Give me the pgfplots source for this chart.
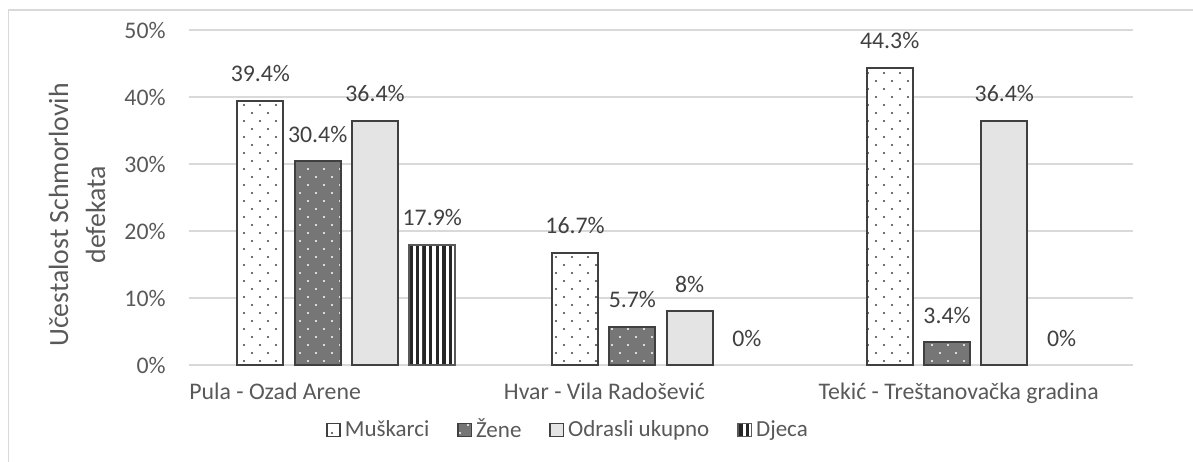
\documentclass[border=0pt]{standalone}
\usepackage{fontspec}
\setmainfont{Carlito}
\usepackage{pgfplots}
\pgfplotsset{compat=1.18}
\usetikzlibrary{patterns}
\definecolor{txt}{HTML}{595959}
\definecolor{lbl}{HTML}{404040}
\definecolor{gridc}{HTML}{D9D9D9}
\definecolor{edge}{HTML}{404040}
\definecolor{dgray}{HTML}{767676}
\definecolor{lgray}{HTML}{E4E4E4}
\pgfdeclarepatternformonly{sdots}{\pgfqpoint{-1pt}{-1pt}}{\pgfqpoint{9pt}{9pt}}{\pgfqpoint{8pt}{8pt}}{%
  \pgfpathcircle{\pgfqpoint{2pt}{2pt}}{0.6pt}%
  \pgfpathcircle{\pgfqpoint{6pt}{6pt}}{0.6pt}%
  \pgfusepath{fill}}
\pgfdeclarepatternformonly{vstripes}{\pgfqpoint{0pt}{-1pt}}{\pgfqpoint{3.3pt}{1pt}}{\pgfqpoint{3.3pt}{1pt}}{%
  \pgfpathrectangle{\pgfqpoint{0pt}{-1pt}}{\pgfqpoint{1.7pt}{2pt}}%
  \pgfusepath{fill}}
\begin{document}
\begin{tikzpicture}
\path[use as bounding box] (-94.5pt,-48pt) rectangle (502pt,182.5pt);
\draw[gridc, line width=0.75pt] (-90.25pt,-60pt) -- (-90.25pt,177.5pt) -- (520pt,177.5pt);
\begin{axis}[
  at={(0pt,0pt)}, anchor=south west,
  scale only axis, width=472pt, height=167.5pt,
  ybar=5.65pt, bar width=23pt,
  xmin=-0.5, xmax=2.5, ymin=0, ymax=50,
  xtick={0,1,2},
  xticklabels={Pula - Ozad Arene, Hvar - Vila Radošević, Tekić - Treštanovačka gradina},
  ytick={0,10,20,30,40,50},
  yticklabel={\pgfmathprintnumber{\tick}\%},
  /pgf/number format/assume math mode=true,
  axis line style={draw=none},
  major tick length=0pt,
  ymajorgrids, xmajorgrids=false, major grid style={draw=gridc, line width=1pt},
  tick label style={font=\fontsize{11.9}{13.5}\selectfont, text=txt},
  xticklabel style={anchor=north west, inner sep=0pt, xshift=-78.7pt, yshift=-9pt},
  yticklabel style={anchor=east, inner sep=0pt, xshift=-11.5pt},
  ylabel={Učestalost Schmorlovih\\defekata},
  ylabel style={at={(axis description cs:-0.1186,0.448)}, anchor=center, align=center,
    font=\fontsize{13.9}{18.5}\selectfont, text=txt},
  nodes near coords={\pgfmathprintnumber{\pgfplotspointmeta}\%},
  every node near coord/.append style={font=\fontsize{11.9}{13.5}\selectfont, text=lbl,
    anchor=south, inner sep=0pt, yshift=9pt},
  legend columns=4,
  legend style={at={(axis description cs:0.4025,-0.194)}, anchor=center, draw=none,
    font=\fontsize{11.5}{13}\selectfont, text=txt, inner sep=0pt,
    /tikz/every even column/.append style={column sep=12pt}},
  legend image code/.code={\draw[#1, line width=0.75pt] (0pt,-3.3pt) rectangle (6.6pt,3.3pt);},
  clip=false,
]
\addplot[draw=edge, line width=1pt, fill=white, postaction={pattern=sdots, pattern color=lbl}]
  coordinates {(0,39.4) (1,16.7) (2,44.3)};
\addplot[draw=edge, line width=1pt, fill=dgray, postaction={pattern=sdots, pattern color=white}]
  coordinates {(0,30.4) (1,5.7) (2,3.4)};
\addplot[draw=edge, line width=1pt, fill=lgray]
  coordinates {(0,36.4) (1,8) (2,36.4)};
\addplot[draw=txt, line width=1pt, fill=white, postaction={pattern=vstripes, pattern color=black!85}]
  coordinates {(0,17.9)};
\addplot[draw=none, fill=none, bar shift=42.975pt, forget plot]
  coordinates {(1,0) (2,0)};
\legend{Muškarci, Žene, Odrasli ukupno, Djeca}
\end{axis}
\end{tikzpicture}
\end{document}
